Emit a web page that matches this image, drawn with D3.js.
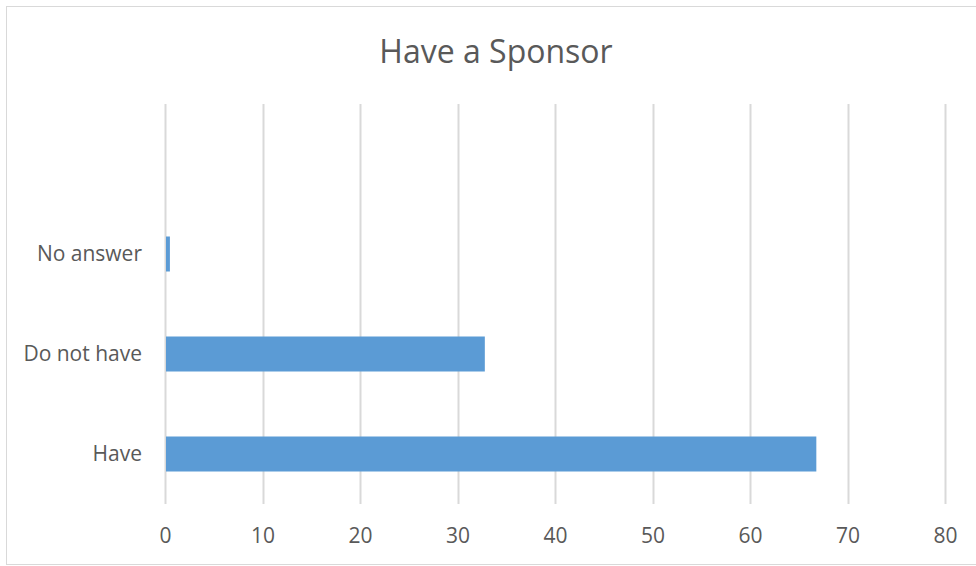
<!DOCTYPE html>
<html><head><meta charset="utf-8">
<script src="https://cdn.jsdelivr.net/npm/d3@7"></script>
<style>body{margin:0;background:#fff;}svg{display:block;}text{font-family:"Open Sans",sans-serif;fill:#595959;}</style>
</head><body>
<svg id="c" width="976" height="566"></svg>
<script>
const categories = ["Have", "Do not have", "No answer"];
const values = [66.7, 32.7, 0.4];
const tickValues = [0, 10, 20, 30, 40, 50, 60, 70, 80];
const title = "Have a Sponsor";

const svg = d3.select("#c");
svg.append("rect").attr("x", 6.5).attr("y", 6.5).attr("width", 980).attr("height", 558)
  .attr("fill", "#fff").attr("stroke", "#d9d9d9").attr("stroke-width", 1);

const x = d3.scaleLinear().domain([0, 80]).range([165, 945]);
const plotTop = 104, plotBottom = 504;
const y = d3.scaleBand().domain(categories).range([plotBottom, plotTop + 100]).paddingInner(0.65).paddingOuter(0.325);

// gridlines
svg.append("g").selectAll("line").data(tickValues).join("line")
  .attr("x1", d => Math.round(x(d)) + 0.5).attr("x2", d => Math.round(x(d)) + 0.5)
  .attr("y1", plotTop).attr("y2", plotBottom)
  .attr("stroke", "#d9d9d9").attr("stroke-width", 2);

// bars
svg.append("g").selectAll("rect").data(categories).join("rect")
  .attr("x", x(0) + 1).attr("y", d => y(d))
  .attr("width", (d, i) => Math.max(0, x(values[i]) - x(0)))
  .attr("height", y.bandwidth())
  .attr("fill", "#5b9bd5");

// x axis labels
const xAxis = d3.axisBottom(x).tickValues(tickValues).tickSize(0).tickPadding(0);
const gx = svg.append("g").attr("transform", `translate(0,${plotBottom + 39})`).call(xAxis);
gx.select(".domain").remove();
gx.selectAll("text").style("font-size", "21px").style("font-family", "'Open Sans',sans-serif").attr("fill", "#595959").attr("dy", "0");

// y axis labels
const yAxis = d3.axisLeft(y).tickSize(0).tickPadding(0);
const gy = svg.append("g").attr("transform", `translate(142,0)`).call(yAxis);
gy.select(".domain").remove();
gy.selectAll("text").style("font-size", "21px").style("font-family", "'Open Sans',sans-serif").attr("fill", "#595959");

svg.append("text").attr("x", 496).attr("y", 63).attr("text-anchor", "middle")
  .style("font-size", "32px").text(title);
</script>
</body></html>
